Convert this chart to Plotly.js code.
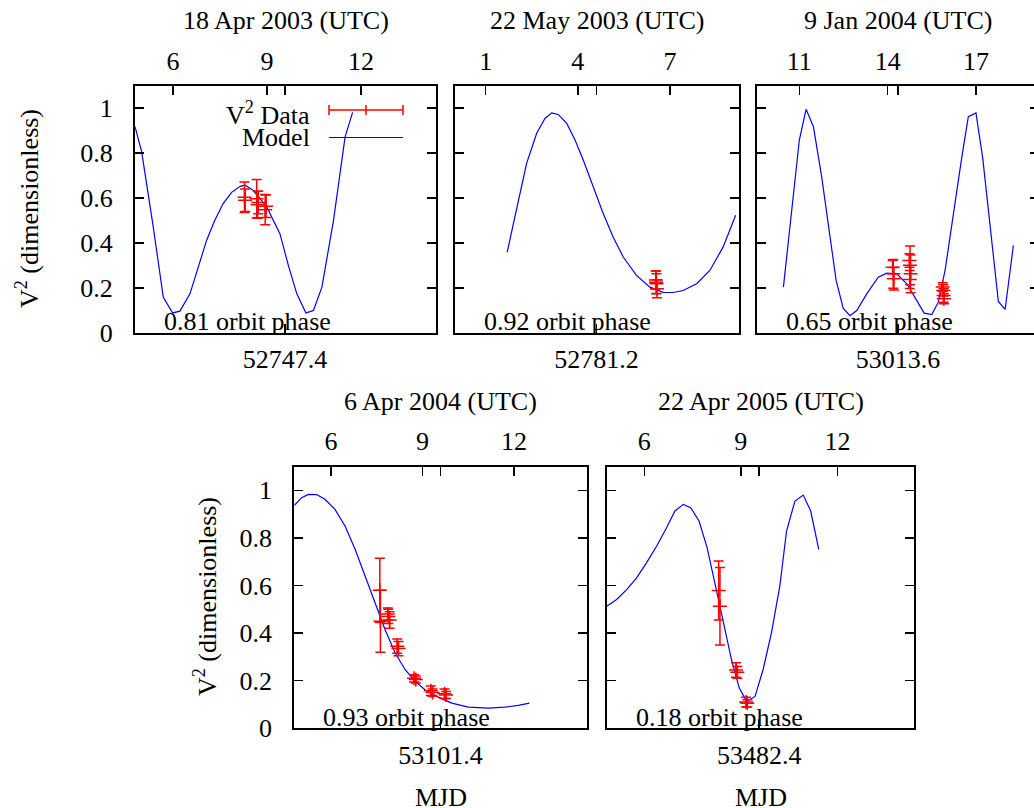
<!DOCTYPE html>
<html><head><meta charset="utf-8">
<script src="https://cdn.plot.ly/plotly-3.0.1.min.js"></script>
<style>html,body{margin:0;padding:0;overflow:hidden;background:#fff}#chart{width:1040px;height:808px}
#chart text, #chart tspan{font-family:'Liberation Serif' !important}</style>
</head><body><div id="chart"></div><script>
// ---------- DATA (hours UTC on each night) ----------
const dateTitles = ['18 Apr 2003 (UTC)','22 May 2003 (UTC)','9 Jan 2004 (UTC)','6 Apr 2004 (UTC)','22 Apr 2005 (UTC)'];
const phaseLabels = ['0.81 orbit phase','0.92 orbit phase','0.65 orbit phase','0.93 orbit phase','0.18 orbit phase'];
const mjdLabels = ['52747.4','52781.2','53013.6','53101.4','53482.4'];
const mjdTickHour = [9.57, 4.61, 14.35, 9.59, 9.57];
const hourRanges = [[4.787,14.39],[0.0,9.24],[9.573,19.13],[4.797,14.40],[4.83,14.39]];
const hourTicks = [[6,9,12],[1,4,7],[11,14,17],[6,9,12],[6,9,12]];
const yTickVals = [0,0.2,0.4,0.6,0.8,1];
const yTickText = ['0','0.2','0.4','0.6','0.8','1'];

const model1H = [4.79,5.00,5.37,5.69,5.99,6.22,6.54,7.07,7.33,7.60,7.87,8.14,8.30,8.56,8.99,9.41,9.68,9.95,10.24,10.48,10.75,11.12,11.49,11.73];
const model1V = [0.917,0.805,0.47,0.158,0.088,0.096,0.173,0.411,0.50,0.575,0.625,0.652,0.657,0.634,0.560,0.441,0.30,0.173,0.088,0.099,0.203,0.50,0.872,0.981];
const data1H = [8.28,8.30,8.67,8.70,8.72,8.94,8.97];
const data1V = [0.603,0.59,0.597,0.57,0.58,0.548,0.563];
const data1E = [0.068,0.05,0.085,0.06,0.05,0.067,0.05];

const model2H = [1.70,2.01,2.33,2.66,2.93,3.15,3.36,3.64,3.91,4.18,4.50,4.83,5.15,5.48,5.91,6.35,6.78,7.11,7.43,7.87,8.30,8.73,9.14];
const model2V = [0.359,0.56,0.753,0.888,0.954,0.979,0.972,0.932,0.858,0.768,0.649,0.530,0.426,0.337,0.255,0.203,0.180,0.179,0.188,0.218,0.277,0.381,0.523];
const data2H = [6.54,6.56,6.58,6.55];
const data2V = [0.235,0.218,0.196,0.225];
const data2E = [0.04,0.045,0.04,0.05];

const model3H = [10.46,11.00,11.23,11.48,11.76,12.04,12.25,12.49,12.72,12.95,13.29,13.68,13.97,14.31,14.65,14.99,15.24,15.50,15.72,15.95,16.23,16.52,16.74,17.00,17.23,17.48,17.76,17.99,18.27];
const model3V = [0.203,0.858,0.995,0.917,0.694,0.441,0.233,0.109,0.076,0.099,0.173,0.247,0.265,0.262,0.218,0.143,0.087,0.081,0.136,0.277,0.530,0.783,0.962,0.979,0.776,0.486,0.139,0.104,0.389];
const data3H = [14.17,14.19,14.21,14.74,14.76,14.78,14.75,15.87,15.89,15.90,15.91];
const data3V = [0.292,0.262,0.240,0.322,0.300,0.262,0.237,0.203,0.188,0.166,0.151];
const data3E = [0.03,0.064,0.05,0.03,0.086,0.084,0.04,0.02,0.025,0.03,0.022];

const model4H = [4.80,5.04,5.26,5.53,5.80,6.13,6.46,6.79,7.12,7.44,7.77,8.10,8.43,8.76,9.08,9.52,9.96,10.50,11.16,11.70,12.14,12.50];
const model4V = [0.937,0.969,0.983,0.982,0.962,0.920,0.850,0.752,0.639,0.527,0.415,0.317,0.246,0.197,0.162,0.131,0.106,0.089,0.085,0.089,0.096,0.106];
const data4H = [7.60,7.62,7.86,7.88,7.92,8.17,8.21,8.72,8.78,9.27,9.33,9.72,9.77];
const data4V = [0.58,0.45,0.48,0.47,0.455,0.345,0.335,0.21,0.205,0.158,0.150,0.145,0.140];
const data4E = [0.135,0.13,0.025,0.03,0.035,0.03,0.03,0.015,0.015,0.02,0.015,0.02,0.015];

const model5H = [4.83,5.14,5.45,5.76,6.07,6.38,6.69,6.95,7.21,7.44,7.70,7.95,8.19,8.47,8.71,8.95,9.18,9.44,9.69,9.95,10.21,10.42,10.68,10.94,11.17,11.42];
const model5V = [0.513,0.541,0.583,0.632,0.696,0.765,0.843,0.913,0.941,0.927,0.871,0.759,0.611,0.443,0.288,0.169,0.113,0.134,0.246,0.401,0.597,0.829,0.955,0.980,0.913,0.752];
const data5H = [8.31,8.35,8.85,8.89,9.16,9.20];
const data5V = [0.579,0.513,0.245,0.235,0.110,0.105];
const data5E = [0.124,0.163,0.03,0.025,0.02,0.015];

const modelH = [model1H,model2H,model3H,model4H,model5H];
const modelV = [model1V,model2V,model3V,model4V,model5V];
const dataH = [data1H,data2H,data3H,data4H,data5H];
const dataV = [data1V,data2V,data3V,data4V,data5V];
const dataE = [data1E,data2E,data3E,data4E,data5E];

// ---------- LAYOUT ----------
const W = 1040, H = 808;
const fx = x => x / W, fy = y => 1 - y / H;
const FS = 26;
const TF = () => ({family: 'Liberation Serif', size: FS, color: '#000000'});
// panel frames in pixels: [left, right, top, bottom]
const frames = [[135,436,85.7,332.7],[455,738.7,85.7,332.7],[757.3,1038.7,85.7,332.7],[294.3,587.3,466.5,728.3],[606.7,914.3,466.5,728.3]];
const showYLabels = [true,false,false,true,false];

const traces = [];
const layout = {
  width: W, height: H, margin: {l:0,r:0,t:0,b:0}, showlegend: false,
  paper_bgcolor: '#ffffff', plot_bgcolor: 'rgba(0,0,0,0)',
  font: TF(), annotations: [], shapes: []
};
function ann(x, y, text, xa, extra) {
  return Object.assign({xref:'paper', yref:'paper', x: x, y: y, text: text, showarrow: false,
    xanchor: xa, yanchor: 'middle', font: TF()}, extra || {});
}
for (let i = 0; i < 5; i++) {
  const n = i + 1;
  const xk = n === 1 ? 'xaxis' : 'xaxis' + n;
  const yk = n === 1 ? 'yaxis' : 'yaxis' + n;
  const xid = n === 1 ? 'x' : 'x' + n;
  const yid = n === 1 ? 'y' : 'y' + n;
  const topId = 'x' + (n + 5);
  const f = frames[i];
  layout[xk] = {
    domain: [fx(f[0]), fx(f[1])], anchor: yid, range: hourRanges[i], autorange: false,
    tickmode: 'array', tickvals: [mjdTickHour[i]], ticktext: [mjdLabels[i]],
    ticks: 'inside', ticklen: 9, tickwidth: 1.5, tickcolor: '#000',
    showline: true, linewidth: 2, linecolor: '#000', mirror: 'ticks',
    showgrid: false, zeroline: false, ticklabelstandoff: 2, tickfont: TF()
  };
  layout['xaxis' + (n + 5)] = {
    overlaying: xid, side: 'top', anchor: yid, range: hourRanges[i], autorange: false,
    tickmode: 'array', tickvals: hourTicks[i], ticktext: hourTicks[i].map(String),
    ticks: 'inside', ticklen: 9, tickwidth: 1.5, tickcolor: '#000',
    showline: false, showgrid: false, zeroline: false, ticklabelstandoff: 10, tickfont: TF()
  };
  layout[yk] = {
    domain: [fy(f[3]), fy(f[2])], anchor: xid, range: [0, 1.1], autorange: false,
    tickmode: 'array', tickvals: yTickVals, ticktext: yTickText, showticklabels: showYLabels[i],
    ticks: 'inside', ticklen: 9, tickwidth: 1.5, tickcolor: '#000',
    showline: true, linewidth: 2, linecolor: '#000', mirror: 'ticks',
    showgrid: false, zeroline: false, ticklabelstandoff: 15, tickfont: TF()
  };
  traces.push({
    type: 'scatter', mode: 'lines', x: modelH[i], y: modelV[i], xaxis: xid, yaxis: yid,
    line: {color: '#0000ff', width: 1.2}
  });
  traces.push({
    type: 'scatter', mode: 'markers', x: dataH[i], y: dataV[i], xaxis: xid, yaxis: yid,
    marker: {symbol: 'cross-thin', size: 10, color: '#ff0000', line: {color: '#ff0000', width: 1.5}},
    error_y: {type: 'data', array: dataE[i], visible: true, color: '#ff0000', thickness: 1.5, width: 5}
  });
  traces.push({
    type: 'scatter', mode: 'lines', x: hourRanges[i], y: [-1, -1], xaxis: topId, yaxis: yid,
    line: {color: 'rgba(0,0,0,0)', width: 0}, hoverinfo: 'skip'
  });
  layout.annotations.push(ann(fx((f[0]+f[1])/2), fy(f[2]-65), dateTitles[i], 'center'));
  layout.annotations.push(ann(fx(f[0]+27), fy(f[3]-11), phaseLabels[i], 'left'));
}
const yTitle = 'V<sup>2</sup> (dimensionless)';
layout.annotations.push(ann(fx(27), fy(209), yTitle, 'center', {textangle: -90}));
layout.annotations.push(ann(fx(205), fy(597), yTitle, 'center', {textangle: -90}));
[3,4].forEach(i => {
  const f = frames[i];
  layout.annotations.push(ann(fx((f[0]+f[1])/2), fy(797), 'MJD', 'center', {borderpad: 0}));
});
layout.annotations.push(ann(fx(312), fy(113), 'V<sup>2</sup> Data', 'right'));
layout.annotations.push(ann(fx(312), fy(137.5), 'Model', 'right'));
const ln = (x0,y0,x1,y1,c,w) => ({type:'line', xref:'paper', yref:'paper', x0:fx(x0), y0:fy(y0), x1:fx(x1), y1:fy(y1), line:{color:c,width:w}});
layout.shapes.push(ln(329,110,403,110,'#ff0000',1.5));
layout.shapes.push(ln(329,105,329,115,'#ff0000',1.5));
layout.shapes.push(ln(403,105,403,115,'#ff0000',1.5));
layout.shapes.push(ln(366,105,366,115,'#ff0000',1.5));
layout.shapes.push(ln(329,137.5,403,137.5,'#0000ff',1.2));

Plotly.newPlot('chart', traces, layout, {staticPlot: true, displayModeBar: false});
</script></body></html>
